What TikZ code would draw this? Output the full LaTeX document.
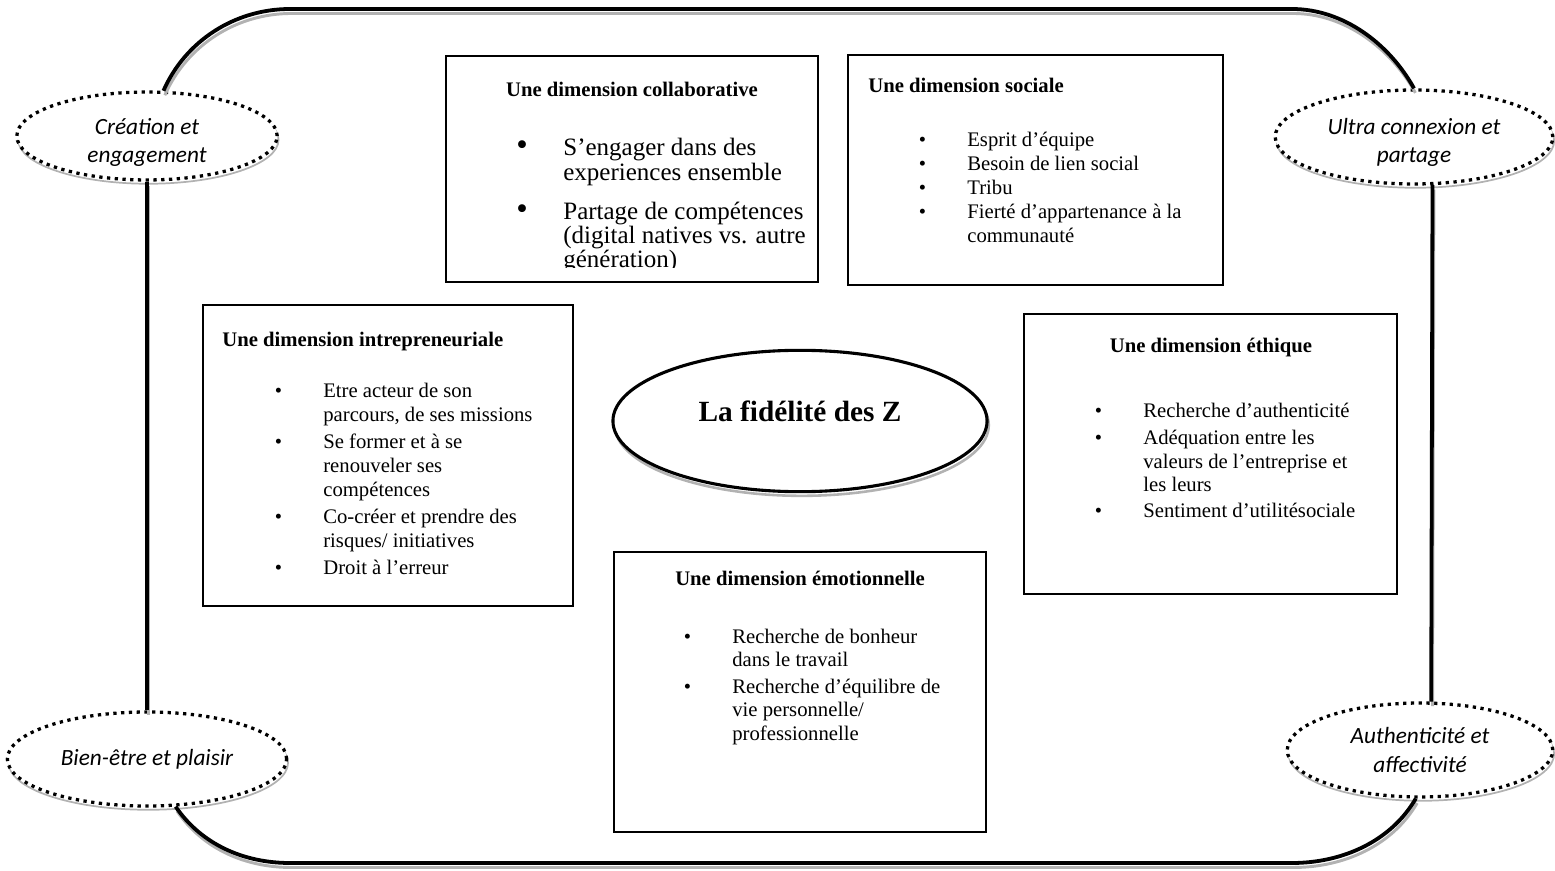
\documentclass[tikz,border=0pt]{standalone}
\usepackage{fontspec}
\setmainfont{Liberation Serif}
\newfontfamily\calibri{Carlito}
\usetikzlibrary{shapes.geometric,shadows,fit}
\newdimen\pxu \pxu=0.58pt
\newcommand{\bigbul}{{\fontsize{19}{13}\selectfont\textbullet}}
\newcommand{\dimrows}[2]{\begin{tabular}[t]{@{}p{#1\pxu}@{}l@{}}#2\end{tabular}}

\begin{document}
\begin{tikzpicture}[x=0.58pt,y=0.58pt,
  every node/.style={inner sep=0pt},
  dimbox/.style={draw,line width=1pt},
  dimtitle/.style={font={\fontsize{12}{13.9}\selectfont\bfseries}},
  dimlist/.style={anchor=base west,font={\fontsize{12}{13.9}\selectfont}},
  cornerell/.style={ellipse,draw,fill=white,line width=1.9pt,dash pattern=on 1.9pt off 2.6pt,
    general shadow={draw=gray!60,solid,line width=1pt,shadow xshift=0.8pt,shadow yshift=-2.2pt}},
  cornertext/.style={align=center,font={\calibri\itshape\fontsize{13.5}{16.5}\selectfont}},
  zellipse/.style={ellipse,draw,fill=white,line width=1.8pt,
    general shadow={draw=gray!60,line width=1.5pt,shadow xshift=1pt,shadow yshift=-2.4pt}},
  frame/.style={line width=2.2pt,
    general shadow={draw=gray!60,line width=1.7pt,shadow xshift=0.8pt,shadow yshift=-2.6pt}}]
\useasboundingbox (0,0) rectangle (1555,-871);
% corner themes
\node[cornerell,minimum width=151pt,minimum height=51pt] (create) at (147,-136) {};
\node[cornerell,minimum width=161pt,minimum height=54.5pt] (ultra) at (1414,-137) {};
\node[cornerell,minimum width=162pt,minimum height=54.5pt] (bien) at (147,-759) {};
\node[cornerell,minimum width=154pt,minimum height=54.5pt] (auth) at (1420,-750) {};
\node[cornertext] (createT) at ([yshift=-3.8pt]create.center) {Création et\\engagement};
\node[cornertext] (ultraT) at ([yshift=-3.2pt]ultra.center) {Ultra connexion et\\partage};
\node[cornertext] (bienT) at (bien.center) {Bien-être et plaisir};
\node[cornertext] (authT) at (auth.center) {Authenticité et\\affectivité};
% rounded frame joining the themes
\coordinate (tl) at (290,-9); \coordinate (tr) at (1292,-9);
\coordinate (bl) at (290,-863); \coordinate (br) at (1292,-863);
\draw[frame] (create.south) -- (bien.north);
\draw[frame] (ultra.291) -- (auth.77);
\draw[frame] (create.70) .. controls +(22,50) and +(-55,0) .. (tl) -- (tr) .. controls +(51,0) and +(-25,45) .. (ultra.north);
\draw[frame] (bien.301) .. controls +(26,-38) and +(-46,0) .. (bl) -- (br) .. controls +(50,0) and +(-25,-43) .. (auth.265);
% centre
\node[zellipse,minimum width=217pt,minimum height=82pt] (fidel) at (800,-421) {};
\node[font={\fontsize{17}{20}\selectfont\bfseries},anchor=base] (fidelT) at (800,-421) {La fidélité des Z};
% dimensions
\node[dimbox,fit={(446,-56)(818,-282)}] (collab) {};
\node[dimtitle,anchor=base] (collabT) at (632,-97) {Une dimension collaborative};
\begin{scope}
\clip (446,-56) rectangle (818,-268);
\node[dimlist,font={\fontsize{14.5}{13.3}\selectfont}] (collabL) at (516,-156) {\dimrows{47}{%
  \bigbul & S’engager dans des\\ & experiences ensemble\\[8.7pt]
  \bigbul & Partage de compétences\\ & (digital natives vs. autre\\ & génération)}};
\end{scope}

\node[dimbox,fit={(848,-55)(1223,-285)}] (social) {};
\node[dimtitle,anchor=base west] (socialT) at (868,-93) {Une dimension sociale};
\node[dimlist] (socialL) at (918.5,-147) {\dimrows{48.5}{%
  \textbullet & Esprit d’équipe\\ \textbullet & Besoin de lien social\\ \textbullet & Tribu\\
  \textbullet & Fierté d’appartenance à la\\ & communauté}};

\node[dimbox,fit={(203,-305)(573,-606)}] (intrep) {};
\node[dimtitle,anchor=base west] (intrepT) at (222,-347) {Une dimension intrepreneuriale};
\node[dimlist] (intrepL) at (274.5,-398) {\dimrows{48.5}{%
  \textbullet & Etre acteur de son\\ & parcours, de ses missions\\[1.7pt]
  \textbullet & Se former et à se\\ & renouveler ses\\ & compétences\\[1.7pt]
  \textbullet & Co-créer et prendre des\\ & risques/ initiatives\\[1.7pt]
  \textbullet & Droit à l’erreur}};

\node[dimbox,fit={(1024,-314)(1397,-594)}] (ethic) {};
\node[dimtitle,anchor=base] (ethicT) at (1211,-353) {Une dimension éthique};
\node[dimlist] (ethicL) at (1094.5,-418) {\dimrows{48.5}{%
  \textbullet & Recherche d’authenticité\\[1.2pt]
  \textbullet & Adéquation entre les\\ & valeurs de l’entreprise et\\ & les leurs\\[1.2pt]
  \textbullet & Sentiment d’utilitésociale}};

\node[dimbox,fit={(614,-552)(986,-832)}] (emotion) {};
\node[dimtitle,anchor=base] (emotionT) at (800,-585) {Une dimension émotionnelle};
\node[dimlist] (emotionL) at (683.5,-643) {\dimrows{48.5}{%
  \textbullet & Recherche de bonheur\\ & dans le travail\\[1.2pt]
  \textbullet & Recherche d’équilibre de\\ & vie personnelle/\\ & professionnelle}};
\end{tikzpicture}
\end{document}
